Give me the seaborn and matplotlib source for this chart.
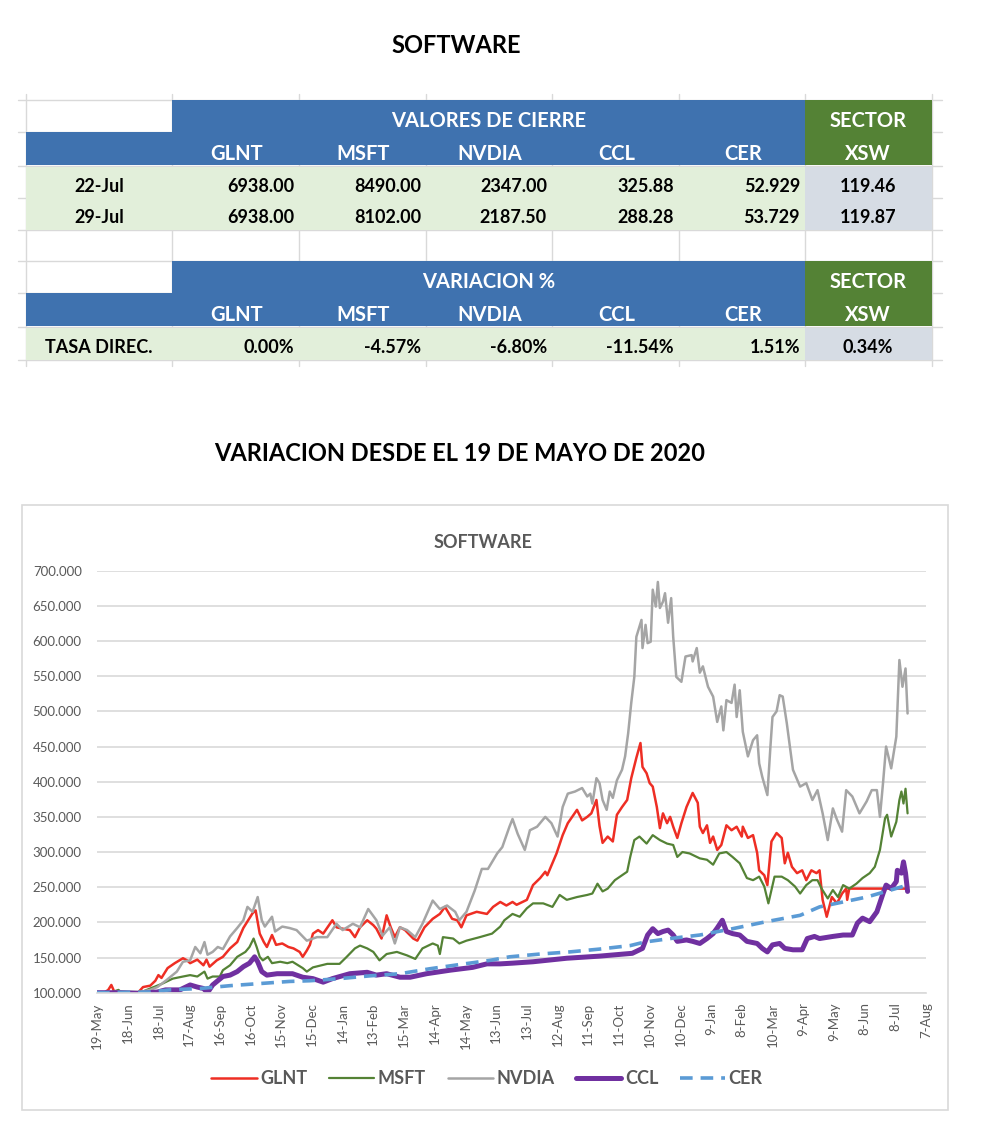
import matplotlib
matplotlib.use("Agg")
import matplotlib.pyplot as plt
from matplotlib.patches import Rectangle
import seaborn as sns
import pandas as pd

START = pd.Timestamp("2020-05-19")

# ---- table values ----
TICKERS = ["GLNT", "MSFT", "NVDIA", "CCL", "CER"]
CLOSE_DATES = ["22-Jul", "29-Jul"]
CLOSE_22 = [6938.00, 8490.00, 2347.00, 325.88, 52.929]
CLOSE_29 = [6938.00, 8102.00, 2187.50, 288.28, 53.729]
DECIMALS = [2, 2, 2, 2, 3]
XSW_CLOSE = [119.46, 119.87]
VARIATION = [0.00, -4.57, -6.80, -11.54, 1.51]
XSW_VARIATION = 0.34

# ---- chart series (days since 19-May-2020, index value) ----
GLNT_DAYS = [0, 7, 11, 14, 17, 21, 40, 45, 52, 57, 60, 63, 69, 76, 84, 88, 91, 98, 104, 107,
             110, 117, 123, 130, 137, 143, 149, 152, 155, 159, 163, 166, 171, 175, 181, 187, 192, 198, 201, 205,
             208, 211, 216, 221, 230, 234, 240, 247, 252, 257, 264, 270, 273, 278, 283, 287, 291, 296, 301, 309,
             313, 320, 328, 335, 340, 347, 352, 356, 361, 371, 381, 387, 394, 400, 406, 410, 420, 426, 433, 438,
             440, 449, 455, 460, 469, 474, 479, 483, 488,
             491, 494, 499, 504, 508, 513, 518, 522, 527, 531, 533, 537, 540, 543, 547, 550, 553, 557, 560, 563,
             567, 571, 576, 582, 587, 589, 592, 596, 599, 602, 606, 610, 615, 620, 625, 630, 631, 636, 641, 645,
             647, 652, 655, 659, 664, 669, 672, 675,
             679, 684, 689, 693, 698, 703, 706, 709, 713, 718, 723, 728, 732, 733, 735, 789, 792]
GLNT_VALS = [100, 100, 104, 111, 101, 100, 100, 108, 110, 117, 125, 121, 135, 142, 149, 146, 142, 147, 139, 147,
             137, 146, 151, 163, 172, 192, 206, 213, 217, 184, 172, 165, 182, 168, 170, 165, 163, 158, 151, 160,
             168, 184, 189, 184, 203, 193, 191, 189, 179, 193, 203, 196, 191, 177, 210, 193, 179, 193, 189, 177,
             174, 193, 205, 212, 222, 205, 203, 193, 210, 215, 212, 222, 229, 224, 229, 225, 232, 253, 263, 272,
             267, 298, 324, 341, 360, 345, 350, 355, 374,
             337, 313, 322, 315, 353, 364, 374, 405, 434, 455, 421, 412, 398, 393, 364, 334, 355, 341, 350, 336,
             320, 341, 364, 384, 370, 336, 327, 338, 313, 322, 303, 310, 338, 331, 336, 322, 336, 320, 324, 299,
             274, 267, 253, 315, 327, 320, 284, 299,
             279, 270, 274, 260, 274, 270, 274, 232, 208, 236, 227, 241, 248, 232, 248, 248, 247]

MSFT_DAYS = [0, 13, 21, 24, 42, 52, 64, 74, 84, 91, 98, 105, 108, 113, 120, 123, 130, 137, 145, 149,
             153, 156, 159, 162, 167, 171, 179, 186, 191, 201, 205, 211, 225, 237, 244, 252, 257, 264, 270, 276,
             283, 293, 303, 311, 318, 328, 333, 335, 338, 348, 354, 361, 374, 386, 394, 398, 406, 413, 420, 426,
             436, 445, 452, 459, 469, 479, 484, 489, 494, 499, 506, 513, 518, 521, 525, 530, 537, 543, 550, 557,
             563, 567, 572, 579, 589, 596, 602, 608, 615, 621, 628, 635, 641, 647, 652, 656, 662, 669, 675, 682,
             687, 693, 699, 704, 708, 714, 719, 724, 729, 735, 742, 748, 755, 760, 765, 770, 772, 776, 781, 784,
             786, 788, 790, 792]
MSFT_VALS = [100, 100, 104, 100, 100, 106, 113, 120, 123, 125, 123, 130, 120, 123, 123, 132, 139, 151, 158, 165,
             177, 165, 151, 146, 151, 142, 144, 142, 144, 135, 130, 136, 141, 141, 151, 163, 167, 163, 158, 146,
             155, 158, 153, 148, 163, 170, 167, 155, 179, 177, 170, 174, 179, 184, 194, 203, 212, 208, 220, 227,
             227, 222, 239, 232, 236, 239, 241, 255, 244, 248, 260, 267, 272, 293, 317, 322, 312, 324, 317, 312,
             310, 293, 300, 298, 291, 289, 282, 298, 300, 293, 284, 263, 260, 265, 251, 227, 265, 265, 260, 251,
             241, 253, 260, 260, 248, 234, 246, 236, 253, 248, 255, 263, 270, 279, 303, 348, 353, 322, 343, 374,
             386, 369, 390, 355]

NVDIA_DAYS = [0, 13, 22, 42, 52, 59, 68, 78, 84, 91, 96, 101, 105, 108, 113, 118, 123, 130, 137, 143,
              147, 152, 157, 161, 164, 171, 174, 181, 188, 195, 201, 205, 215, 225, 234, 240, 250, 257, 265, 273,
              279, 286, 291, 296, 303, 311, 318, 328, 335, 342, 350, 354, 361, 369, 376, 382, 391, 396, 403, 406,
              411, 418, 423, 430, 438, 444, 450, 455, 460, 467, 474, 479, 482, 484, 488,
              491, 494, 498, 501, 504, 508, 513, 516, 519, 522, 525, 527, 532, 533, 536, 538, 541, 543, 546, 548,
              550, 553, 555, 558, 561, 563, 566, 571, 575, 581, 582, 586, 589, 592, 597, 602, 606, 610, 612, 615,
              620, 623, 625, 628, 631, 636, 641, 645, 647, 650, 655, 658, 660, 664, 667, 670, 674,
              680, 687, 693, 699, 704, 709, 714, 719, 723, 728, 732, 738, 745, 752, 757, 762, 765, 768, 771, 776,
              781, 784, 787, 790, 792]
NVDIA_VALS = [100, 100, 102, 101, 104, 108, 118, 130, 144, 146, 165, 156, 172, 154, 158, 165, 162, 180, 192, 203,
              222, 215, 236, 203, 194, 208, 187, 194, 192, 189, 180, 174, 179, 179, 198, 189, 198, 193, 219, 203,
              181, 193, 170, 193, 189, 179, 198, 231, 219, 224, 215, 203, 215, 245, 276, 276, 298, 307, 336, 347,
              326, 303, 331, 336, 350, 341, 322, 364, 383, 386, 391, 379, 383, 369, 405,
              398, 374, 360, 386, 377, 402, 417, 436, 469, 512, 549, 606, 630, 590, 623, 597, 599, 673, 649, 684,
              647, 656, 668, 626, 661, 606, 549, 542, 578, 580, 571, 590, 555, 564, 535, 521, 485, 507, 473, 516,
              512, 538, 492, 530, 471, 436, 459, 466, 426, 407, 381, 450, 492, 500, 523, 521, 483,
              417, 393, 398, 374, 388, 355, 317, 362, 346, 329, 388, 379, 355, 372, 388, 388, 350, 398, 450, 419,
              464, 573, 535, 561, 497]

CCL_DAYS = [0, 22, 42, 59, 67, 81, 91, 98, 104, 108, 113, 123, 130, 137, 143, 149, 154, 157, 161, 166,
            176, 191, 201, 211, 221, 230, 247, 264, 273, 283, 296, 306, 322, 345, 367, 381, 394, 406, 426, 459,
            491, 523, 533, 538, 543, 548, 553, 558, 563, 567, 576, 582, 589, 596, 602, 606, 611, 615, 621, 628,
            635, 645, 650, 655, 660, 667, 672, 680, 689, 694, 701, 706, 719, 729, 738, 743, 748, 755, 762, 768,
            771, 776, 781, 782, 786, 788, 790, 792]
CCL_VALS = [100, 100, 99, 101, 104, 104, 111, 108, 106, 100, 111, 123, 125, 130, 137, 142, 151, 144, 130, 125,
            127, 127, 122, 120, 115, 120, 127, 129, 125, 127, 122, 122, 127, 132, 136, 141, 141, 142, 144, 149,
            152, 156, 163, 182, 191, 184, 187, 189, 182, 173, 175, 173, 170, 177, 184, 192, 203, 187, 184, 182,
            173, 170, 163, 158, 168, 170, 163, 161, 161, 177, 180, 177, 180, 182, 182, 199, 206, 201, 215, 241,
            253, 248, 258, 274, 270, 286, 270, 244]

CER_DAYS = [0, 52, 71, 101, 130, 159, 188, 208, 237, 267, 296, 325, 354, 384, 403, 433, 462, 491, 521, 535,
            560, 589, 621, 654, 687, 706, 729, 752, 771, 792]
CER_VALS = [100, 101, 104, 106, 110, 113, 116, 117, 120, 124, 127, 134, 140, 146, 151, 155, 158, 162, 167, 172,
            177, 182, 191, 201, 210, 222, 229, 236, 244, 253]

X_TICK_STEP_DAYS = 30
N_X_TICKS = 28
Y_TICKS = [100, 150, 200, 250, 300, 350, 400, 450, 500, 550, 600, 650, 700]

BLUE = "#3F72AF"
GREEN = "#548235"
LIGHT_GREEN = "#E2EFDA"
GRAY_BLUE = "#D6DCE4"
GRID = "#D9D9D9"
TEXT_GRAY = "#595959"

sns.set_theme(style="white")
plt.rcParams["font.family"] = ["Lato", "DejaVu Sans"]

W, H = 981, 1136
fig = plt.figure(figsize=(W / 100, H / 100), dpi=100)

# background axes in pixel coordinates for titles and the table
bg = fig.add_axes([0, 0, 1, 1], zorder=0)
bg.set_xlim(0, W)
bg.set_ylim(H, 0)
bg.axis("off")

bg.text(456, 53, "SOFTWARE", ha="center", va="baseline", fontsize=17, fontweight="bold", color="black")
bg.text(460, 461, "VARIACION DESDE EL 19 DE MAYO DE 2020", ha="center", va="baseline",
        fontsize=17, fontweight="bold", color="black")

col_x = [26, 172, 299, 426, 552, 679, 805, 932]


def cell(x0, x1, y0, y1, color):
    bg.add_patch(Rectangle((x0, y0), x1 - x0, y1 - y0, facecolor=color, edgecolor="none", zorder=2))


# spreadsheet gridlines
for yy in [100, 132, 166, 198, 230, 261, 293, 327, 360]:
    bg.plot([18, 942], [yy, yy], color=GRID, lw=1, zorder=1)
for xx in col_x:
    bg.plot([xx, xx], [94, 366], color=GRID, lw=1, zorder=1)


def header_block(top, title):
    cell(col_x[1], col_x[6], top, top + 32, BLUE)
    cell(col_x[0], col_x[6], top + 32, top + 65, BLUE)
    cell(col_x[6], col_x[7], top, top + 65, GREEN)
    kw = dict(ha="center", va="baseline", fontsize=14.5, fontweight="bold", color="white", zorder=3)
    bg.text(489, top + 27, title, **kw)
    bg.text(868, top + 27, "SECTOR", **kw)
    for i, t in enumerate(TICKERS):
        bg.text((col_x[i + 1] + col_x[i + 2]) / 2 + 1, top + 60, t, **kw)
    bg.text(868, top + 60, "XSW", **kw)


data_kw = dict(va="baseline", fontsize=13, fontweight="bold", color="black", zorder=3)

# block 1: closing values
header_block(100, "VALORES DE CIERRE")
cell(col_x[0], col_x[6], 167, 230, LIGHT_GREEN)
cell(col_x[6], col_x[7], 167, 230, GRAY_BLUE)
for r, (label, row, xsw) in enumerate(zip(CLOSE_DATES, [CLOSE_22, CLOSE_29], XSW_CLOSE)):
    yb = 192 + r * 31
    bg.text(99, yb, label, ha="center", **data_kw)
    for i, (v, d) in enumerate(zip(row, DECIMALS)):
        bg.text(col_x[i + 2] - 5, yb, f"{v:.{d}f}", ha="right", **data_kw)
    bg.text(868, yb, f"{xsw:.2f}", ha="center", **data_kw)

# block 2: percent variation
header_block(261, "VARIACION %")
cell(col_x[0], col_x[6], 328, 360, LIGHT_GREEN)
cell(col_x[6], col_x[7], 328, 360, GRAY_BLUE)
bg.text(99, 353, "TASA DIREC.", ha="center", **data_kw)
for i, v in enumerate(VARIATION):
    bg.text(col_x[i + 2] - 5, 353, f"{v:.2f}%", ha="right", **data_kw)
bg.text(868, 353, f"{XSW_VARIATION:.2f}%", ha="center", **data_kw)

# chart frame and title
bg.add_patch(Rectangle((22, 505), 926, 605, facecolor="white", edgecolor=GRID, lw=1.2, zorder=1))
bg.text(483, 548, "SOFTWARE", ha="center", va="baseline", fontsize=13, fontweight="bold", color=TEXT_GRAY, zorder=3)

# ---- line chart ----
left, right, top, bottom = 97, 926, 570.7, 992.7
ax = fig.add_axes([left / W, 1 - bottom / H, (right - left) / W, (bottom - top) / H], zorder=2)
ax.set_facecolor("none")

series = [
    ("GLNT", GLNT_DAYS, GLNT_VALS, "#EE2E24", 1.8, "-"),
    ("MSFT", MSFT_DAYS, MSFT_VALS, "#548235", 1.6, "-"),
    ("NVDIA", NVDIA_DAYS, NVDIA_VALS, "#A5A5A5", 1.8, "-"),
    ("CCL", CCL_DAYS, CCL_VALS, "#7030A0", 3.6, "-"),
    ("CER", CER_DAYS, CER_VALS, "#5B9BD5", 2.6, (0, (3.5, 2.2))),
]
frames = []
for name, days, vals, *_ in series:
    frames.append(pd.DataFrame({"date": START + pd.to_timedelta(days, unit="D"), "value": vals, "serie": name}))
df = pd.concat(frames, ignore_index=True)

for name, _, _, color, lw, ls in series:
    sns.lineplot(data=df[df["serie"] == name], x="date", y="value", color=color, linewidth=lw,
                 linestyle=ls, estimator=None, sort=False, label=name, ax=ax)
if ax.get_legend() is not None:
    ax.get_legend().remove()

ax.set_ylim(100, 700)
ax.set_yticks(Y_TICKS)
ax.set_yticklabels([f"{v:.3f}" for v in Y_TICKS])
xticks = [START + pd.Timedelta(days=X_TICK_STEP_DAYS * k) for k in range(N_X_TICKS)]
ax.set_xlim(xticks[0], xticks[-1])
ax.set_xticks(xticks)
ax.set_xticklabels([f"{d.day}-{d.strftime('%b')}" for d in xticks], rotation=90)
ax.set_xlabel("")
ax.set_ylabel("")
ax.yaxis.grid(True, color=GRID, lw=1.2)
ax.xaxis.grid(False)
ax.set_axisbelow(True)
for s in ["top", "right", "left"]:
    ax.spines[s].set_visible(False)
ax.spines["bottom"].set_color(GRID)
ax.spines["bottom"].set_linewidth(1.2)
ax.tick_params(axis="y", length=0, pad=11, labelsize=9.5, labelcolor=TEXT_GRAY)
ax.tick_params(axis="x", length=0, pad=7, labelsize=9.5, labelcolor=TEXT_GRAY)

handles, labels = ax.get_legend_handles_labels()
fig.legend(handles, labels, loc="center", bbox_to_anchor=(487 / W, 1 - 1079 / H), ncol=5, frameon=False,
           prop={"size": 13, "weight": "bold"}, labelcolor=TEXT_GRAY, handlelength=2.5,
           columnspacing=1.2, handletextpad=0.2)

fig.savefig("out.png", dpi=100)
